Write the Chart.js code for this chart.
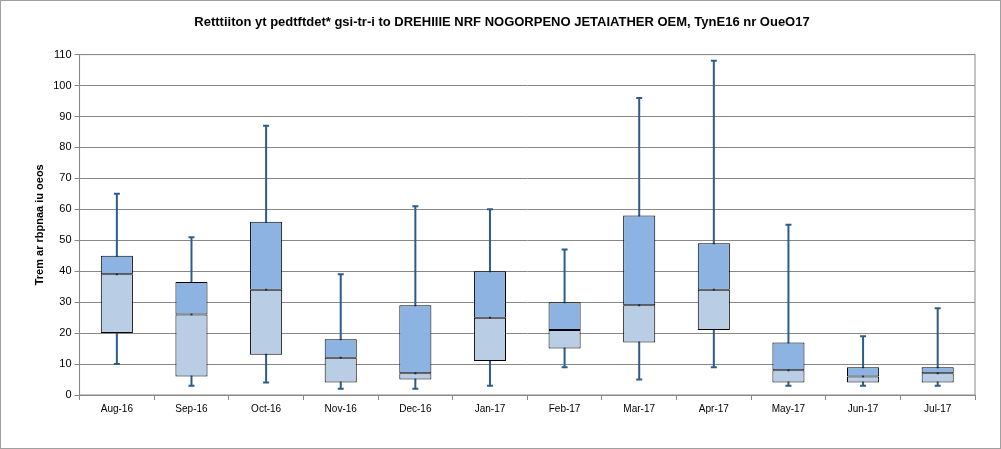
<!DOCTYPE html>
<html><head><meta charset="utf-8">
<script src="https://cdn.jsdelivr.net/npm/chart.js@4"></script>
<style>
html,body{margin:0;padding:0;background:#fff}
#wrap{position:absolute;left:0;top:0;width:999px;height:447px;border:1px solid #a0a0a0}
</style></head><body>
<div id="wrap"><canvas id="c" width="999" height="447"></canvas></div>
<script>
const categories=["Aug-16","Sep-16","Oct-16","Nov-16","Dec-16","Jan-17","Feb-17","Mar-17","Apr-17","May-17","Jun-17","Jul-17"];
const minVals=[10,3,4,2,2,3,9,5,9,3,3,3];
const q1Vals=[20,6,13,4,5,11,15,17,21,4,4,4];
const medVals=[39,26,34,12,7,25,21,29,34,8,6,7];
const q3Vals=[45,36.5,56,18,29,40,30,58,49,17,9,9];
const maxVals=[65,51,87,39,61,60,47,96,108,55,19,28];
const yTicks=[0,10,20,30,40,50,60,70,80,90,100,110];

const whisker={id:'whisker',beforeDatasetsDraw(chart){
  const ctx=chart.ctx,x=chart.scales.x,y=chart.scales.y,a0=chart.chartArea;
  ctx.save();ctx.strokeStyle='#888';ctx.lineWidth=1;
  ctx.strokeRect(a0.left,a0.top,a0.right-a0.left,a0.bottom-a0.top);
  ctx.strokeStyle='#2e5c8a';ctx.lineWidth=2;
  categories.forEach((c,i)=>{
    const px=x.getPixelForValue(i);
    const a=y.getPixelForValue(minVals[i]),b=y.getPixelForValue(maxVals[i]);
    ctx.beginPath();ctx.moveTo(px,a);ctx.lineTo(px,b);
    ctx.moveTo(px-3,a);ctx.lineTo(px+3,a);ctx.moveTo(px-3,b);ctx.lineTo(px+3,b);ctx.stroke();
  });
  ctx.restore();
}};
new Chart(document.getElementById('c'),{
  type:'bar',
  data:{labels:categories,datasets:[
    {data:categories.map((c,i)=>[q1Vals[i],medVals[i]]),backgroundColor:'#b9cde5',borderColor:'#000',borderWidth:1,borderSkipped:false,grouped:false,barPercentage:0.43,categoryPercentage:1},
    {data:categories.map((c,i)=>[medVals[i],q3Vals[i]]),backgroundColor:'#8db3e2',borderColor:'#000',borderWidth:1,borderSkipped:false,grouped:false,barPercentage:0.43,categoryPercentage:1}
  ]},
  options:{responsive:false,animation:false,
    layout:{padding:{left:28,right:25,top:6,bottom:30}},
    plugins:{legend:{display:false},tooltip:{enabled:false},
      title:{display:true,text:'Retttiiton yt pedtftdet* gsi-tr-i to DREHIIIE NRF NOGORPENO JETAIATHER OEM, TynE16 nr OueO17',color:'#000',font:{family:'Liberation Sans',size:13,weight:'bold'},padding:{top:8,bottom:24}}},
    scales:{
      x:{grid:{display:true,drawOnChartArea:false,color:'#888',offset:true,tickLength:5},border:{color:'#888'},
        ticks:{color:'#000',font:{family:'Liberation Sans',size:10}}},
      y:{min:0,max:110,afterBuildTicks(s){s.ticks=yTicks.map(v=>({value:v}));},
        grid:{color:'#888',tickLength:5},border:{color:'#888'},
        ticks:{color:'#000',font:{family:'Liberation Sans',size:11}},
        title:{display:true,text:'Trem ar rbpnaa iu oeos',color:'#000',font:{family:'Liberation Sans',size:11,weight:'bold'}}}
    }
  },
  plugins:[whisker]
});
</script></body></html>
